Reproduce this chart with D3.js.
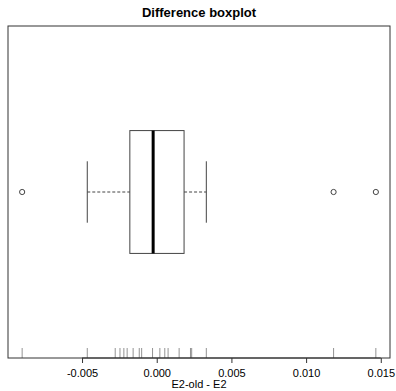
<!DOCTYPE html>
<html>
<head>
<meta charset="utf-8">
<script src="https://cdn.jsdelivr.net/npm/d3@7"></script>
<style>
  body { margin: 0; background: #fff; }
  text { font-family: "Liberation Sans", Arial, sans-serif; }
</style>
</head>
<body>
<script>
// values
var rugValues = [-0.00901, -0.00465, -0.00278, -0.00246, -0.00220, -0.00198, -0.00158,
                 -0.00117, -0.00101, -0.00028, 0.00021, 0.00054, 0.00076, 0.00150,
                 0.00226, 0.00234, 0.00332, 0.01184, 0.01467];
var boxStats = [-0.00465, -0.00180, -0.00024, 0.00183, 0.00332];   // whisker lo, q1, median, q3, whisker hi
var outliers = [-0.00901, 0.01184, 0.01467];
var tickValues = [-0.005, 0.000, 0.005, 0.010, 0.015];

window.onload = function(){
    drawBox()
};

function drawBox(){
    var svg = d3.select("body").append("svg").attr("width", 396).attr("height", 391);

    // plot region
    var left = 8, right = 390, top = 26, bottom = 358;

    // R pads the range by 4% on each side
    var ext = d3.extent(rugValues);
    var pad = (ext[1] - ext[0]) * 0.04;

    var xScale = d3.scaleLinear()
        .domain([ext[0] - pad, ext[1] + pad])
        .range([left, right]);

    var yScale = d3.scaleLinear()
        .domain([0, 1])
        .range([bottom, top]);

    var cy = yScale(0.5);
    var boxHalf = yScale(0) - yScale(0.185);
    var stapleHalf = boxHalf / 2;

    // title
    svg.append("text")
        .attr("x", (left + right) / 2)
        .attr("y", 17)
        .attr("text-anchor", "middle")
        .style("font-weight", "bold")
        .style("font-size", "13px")
        .text("Difference boxplot");

    // whiskers (dashed)
    svg.append("line")
        .attr("x1", xScale(boxStats[0])).attr("x2", xScale(boxStats[1]))
        .attr("y1", cy).attr("y2", cy)
        .attr("stroke", "#444").attr("stroke-dasharray", "3,2");
    svg.append("line")
        .attr("x1", xScale(boxStats[3])).attr("x2", xScale(boxStats[4]))
        .attr("y1", cy).attr("y2", cy)
        .attr("stroke", "#444").attr("stroke-dasharray", "3,2");

    // staples
    [boxStats[0], boxStats[4]].forEach(function(v){
        svg.append("line")
            .attr("x1", xScale(v)).attr("x2", xScale(v))
            .attr("y1", cy - stapleHalf).attr("y2", cy + stapleHalf)
            .attr("stroke", "#444");
    });

    // box
    svg.append("rect")
        .attr("x", xScale(boxStats[1]))
        .attr("y", cy - boxHalf)
        .attr("width", xScale(boxStats[3]) - xScale(boxStats[1]))
        .attr("height", 2 * boxHalf)
        .attr("fill", "none")
        .attr("stroke", "#444");

    // median
    svg.append("line")
        .attr("x1", xScale(boxStats[2])).attr("x2", xScale(boxStats[2]))
        .attr("y1", cy - boxHalf).attr("y2", cy + boxHalf)
        .attr("stroke", "#000").attr("stroke-width", 3);

    // outliers
    svg.selectAll(".outlier")
        .data(outliers)
        .enter()
        .append("circle")
        .attr("class", "outlier")
        .attr("cx", function(d){ return xScale(d); })
        .attr("cy", cy)
        .attr("r", 2.6)
        .attr("fill", "none")
        .attr("stroke", "#444");

    // rug
    svg.selectAll(".rug")
        .data(rugValues)
        .enter()
        .append("line")
        .attr("class", "rug")
        .attr("x1", function(d){ return xScale(d); })
        .attr("x2", function(d){ return xScale(d); })
        .attr("y1", bottom)
        .attr("y2", bottom - 10)
        .attr("stroke", "#777")
        .attr("stroke-width", 0.8);

    // frame
    svg.append("rect")
        .attr("x", left).attr("y", top)
        .attr("width", right - left).attr("height", bottom - top)
        .attr("fill", "none")
        .attr("stroke", "#333");

    // x axis
    var axis = d3.axisBottom(xScale)
        .tickValues(tickValues)
        .tickSize(5)
        .tickFormat(d3.format(".3f"));

    var gx = svg.append("g")
        .attr("transform", "translate(0," + bottom + ")")
        .call(axis);
    gx.select(".domain")
        .attr("d", "M" + xScale(tickValues[0]) + ",0H" + xScale(tickValues[tickValues.length - 1]))
        .attr("stroke", "#333");
    gx.selectAll(".tick line").attr("stroke", "#333");
    gx.selectAll(".tick text")
        .attr("y", 11)
        .attr("dy", "0.71em")
        .style("font-size", "11px")
        .style("font-family", "Liberation Sans, Arial, sans-serif")
        .attr("fill", "#000")
        .text(function(d){ return d3.format(".3f")(d).replace("−", "-"); });

    // x label
    svg.append("text")
        .attr("x", (left + right) / 2)
        .attr("y", 388)
        .attr("text-anchor", "middle")
        .style("font-size", "11px")
        .text("E2-old - E2");
}
</script>
</body>
</html>
